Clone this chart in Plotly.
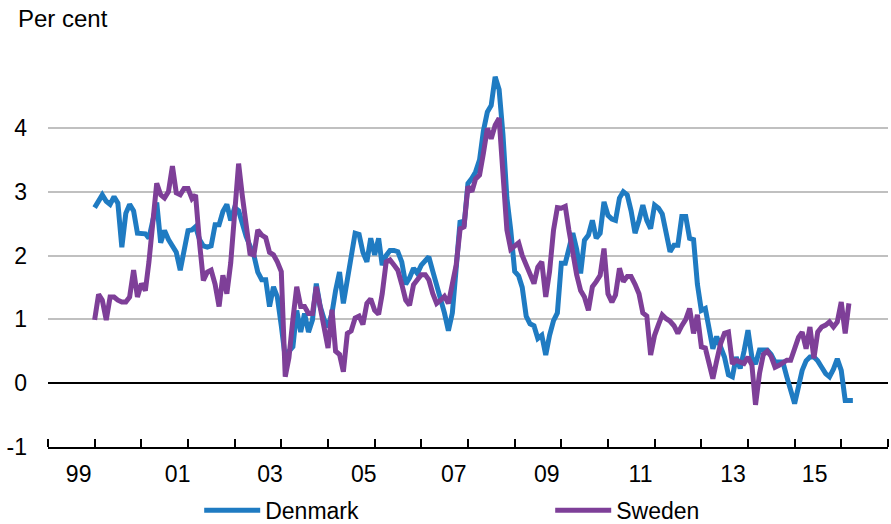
import plotly.graph_objects as go
import pandas as pd

# monthly inflation, per cent, from Jan 2000
denmark = [
    2.75, 2.85, 2.95, 2.85, 2.80, 2.92, 2.82, 2.13, 2.66, 2.80, 2.70, 2.35,
    2.34, 2.34, 2.27, 2.55, 2.83, 2.20, 2.39, 2.25, 2.15, 2.05, 1.77, 2.05,
    2.39, 2.40, 2.45, 2.25, 2.15, 2.13, 2.15, 2.48, 2.48, 2.69, 2.80, 2.55,
    2.75, 2.70, 2.50, 2.30, 2.15, 2.00, 1.74, 1.62, 1.62, 1.20, 1.51, 1.35,
    0.90, 0.40, 0.50, 0.57, 1.14, 0.80, 1.09, 0.80, 0.99, 1.56, 1.20, 1.00,
    0.88, 1.10, 1.45, 1.74, 1.25, 1.60, 1.95, 2.35, 2.33, 2.05, 1.90, 2.27,
    2.01, 2.27, 1.85, 2.00, 2.08, 2.08, 2.06, 1.90, 1.55, 1.65, 1.80, 1.72,
    1.85, 1.92, 1.98, 1.75, 1.55, 1.30, 1.10, 0.82, 1.10, 1.80, 2.55, 2.45,
    3.13, 3.21, 3.31, 3.50, 3.95, 4.25, 4.35, 4.80, 4.60, 3.90, 2.90, 2.40,
    1.75, 1.68, 1.50, 1.05, 0.93, 0.90, 0.70, 0.75, 0.44, 0.75, 0.98, 1.10,
    1.88, 1.88, 2.10, 2.35, 2.10, 1.72, 2.24, 2.32, 2.55, 2.27, 2.35, 2.84,
    2.63, 2.57, 2.55, 2.90, 3.00, 2.95, 2.70, 2.35, 2.55, 2.79, 2.55, 2.42,
    2.79, 2.74, 2.65, 2.30, 2.06, 2.16, 2.16, 2.61, 2.61, 2.27, 2.25, 1.55,
    1.14, 1.17, 0.88, 0.54, 0.73, 0.55, 0.41, 0.13, 0.10, 0.41, 0.23, 0.50,
    0.83, 0.40, 0.30, 0.52, 0.52, 0.52, 0.45, 0.33, 0.33, 0.33, 0.10, -0.10,
    -0.32, -0.05, 0.20, 0.35, 0.41, 0.41, 0.35, 0.25, 0.15, 0.10, 0.22, 0.38,
    0.20, -0.27, -0.27, -0.27,
]

sweden = [
    0.99, 1.39, 1.30, 0.99, 1.35, 1.35, 1.30, 1.27, 1.27, 1.35, 1.77, 1.35,
    1.56, 1.45, 1.90, 2.50, 3.13, 2.95, 2.90, 3.00, 3.40, 2.98, 2.95, 3.05,
    3.05, 2.89, 2.95, 2.20, 1.61, 1.74, 1.77, 1.55, 1.20, 1.69, 1.40, 1.88,
    2.60, 3.44, 2.95, 2.40, 2.03, 2.01, 2.40, 2.32, 2.28, 2.05, 2.01, 1.90,
    1.75, 0.10, 0.40, 1.00, 1.51, 1.20, 1.20, 1.09, 1.09, 1.51, 1.20, 0.95,
    0.55, 1.15, 0.50, 0.45, 0.18, 0.78, 0.82, 1.02, 1.05, 0.92, 1.25, 1.32,
    1.14, 1.08, 1.40, 1.90, 1.93, 1.85, 1.77, 1.55, 1.30, 1.22, 1.54, 1.62,
    1.70, 1.70, 1.62, 1.40, 1.25, 1.30, 1.36, 1.25, 1.55, 1.85, 2.42, 2.45,
    3.08, 3.00, 3.20, 3.26, 3.60, 3.99, 3.83, 4.04, 4.15, 3.40, 2.40, 2.10,
    2.15, 2.20, 2.00, 1.85, 1.70, 1.56, 1.82, 1.90, 1.35, 1.75, 2.40, 2.75,
    2.74, 2.77, 2.40, 1.98, 1.70, 1.45, 1.35, 1.14, 1.51, 1.59, 1.69, 2.11,
    1.40, 1.27, 1.38, 1.80, 1.59, 1.67, 1.67, 1.55, 1.40, 1.10, 1.05, 0.44,
    0.75, 0.92, 1.07, 1.01, 0.97, 0.90, 0.78, 0.90, 1.00, 1.17, 0.78, 1.07,
    0.57, 0.55, 0.35, 0.07, 0.35, 0.62, 0.78, 0.80, 0.30, 0.36, 0.33, 0.31,
    0.41, 0.28, -0.34, 0.15, 0.45, 0.50, 0.42, 0.25, 0.28, 0.33, 0.36, 0.36,
    0.54, 0.72, 0.80, 0.54, 0.88, 0.39, 0.80, 0.88, 0.91, 0.96, 0.88, 0.96,
    1.27, 0.78, 1.25,
]

year_ticks = pd.date_range('1999-01-01', '2017-01-01', freq='YS')
label_pos = ['1999-08-29', '2001-10-12', '2003-10-05', '2005-10-08', '2007-09-13',
             '2009-09-09', '2011-09-13', '2013-09-06', '2015-06-07']
label_text = ['99', '01', '03', '05', '07', '09', '11', '13', '15']
y_vals = [-1, 0, 1, 2, 3, 4, 5]
y_text = ['-1', '0', '1', '2', '3', '4', '']

dk_dates = pd.date_range('2000-01-01', periods=len(denmark), freq='MS')
se_dates = pd.date_range('2000-01-01', periods=len(sweden), freq='MS')

font = "Liberation Sans, Arial, sans-serif"

fig = go.Figure()
fig.add_trace(go.Scatter(x=dk_dates, y=denmark, mode='lines', name='Denmark',
                         line=dict(color='#1F7BC2', width=5)))
fig.add_trace(go.Scatter(x=se_dates, y=sweden, mode='lines', name='Sweden',
                         line=dict(color='#7E3F98', width=5)))

fig.update_layout(
    width=891, height=524,
    margin=dict(l=48, r=3, t=64, b=77, autoexpand=False),
    plot_bgcolor='white', paper_bgcolor='white',
    font=dict(family=font, size=23, color='black'),
    showlegend=True,
    legend=dict(orientation='h', x=0.18, xanchor='left', y=-0.165, yanchor='middle',
                entrywidth=280, itemwidth=56, font=dict(size=23),
                bgcolor='rgba(0,0,0,0)'),
    annotations=[dict(text='Per cent', xref='paper', yref='paper', x=-0.038, y=1.118,
                      xanchor='left', yanchor='middle', showarrow=False,
                      font=dict(size=24))],
)

fig.update_xaxes(
    type='date', range=['1999-01-01', '2017-01-01'], automargin=False,
    tickmode='array', tickvals=label_pos, ticktext=label_text,
    ticks='', showgrid=False, ticklabelstandoff=5,
    showline=True, linecolor='black', linewidth=2,
    minor=dict(tickmode='array', tickvals=list(year_ticks), ticks='inside',
               ticklen=8, tickwidth=2, tickcolor='black', showgrid=False),
)
fig.update_yaxes(
    range=[-1, 5], tickmode='array', tickvals=y_vals, ticktext=y_text,
    automargin=False,
    showgrid=True, gridcolor='#C0C0C0', gridwidth=2,
    zeroline=True, zerolinecolor='black', zerolinewidth=2,
    ticks='', ticklabelstandoff=20, showline=False,
)

fig.write_html("out.html", config={'displayModeBar': False},
               post_script="document.body.style.margin='0px';")
